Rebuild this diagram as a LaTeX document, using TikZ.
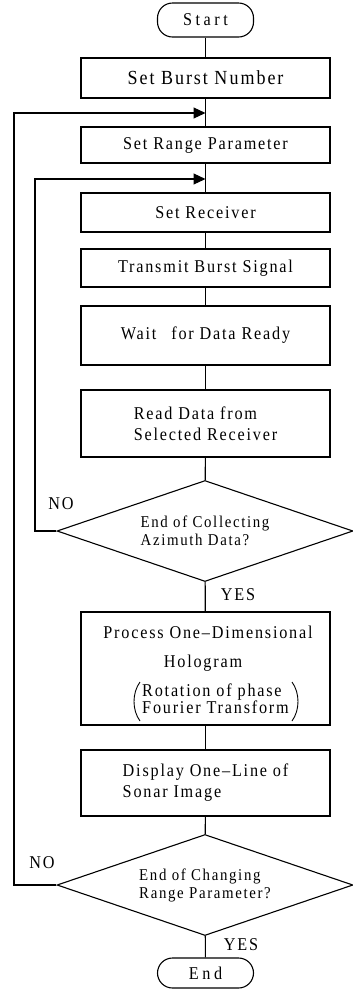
\documentclass[tikz,border=0pt]{standalone}
\usepackage{fontspec}
\setmainfont{Liberation Serif}[FakeStretch=0.9, LetterSpace=10]
\usetikzlibrary{arrows.meta,shapes.geometric}
\begin{document}
\begin{tikzpicture}[x=1pt,y=-1pt,
  every node/.style={font=\fontsize{18}{21}\selectfont},
  line/.style={line width=1.1pt},
  arr/.style={line, -{Triangle[length=12pt,width=11pt]}},
  stepbox/.style={draw, line width=1.1pt, minimum width=249pt, inner sep=0pt},
  term/.style={draw, line width=1.1pt, rounded corners=15pt, minimum width=96pt, inner sep=0pt,
               font=\fontsize{18}{21}\selectfont\addfontfeatures{LetterSpace=20}},
  decision/.style={draw, line width=1.1pt, diamond, shape aspect=2.9, inner sep=0pt,
                   minimum width=296pt, minimum height=101pt,
                   font=\fontsize{16.5}{18}\selectfont},
  tag/.style={inner sep=0pt},
  paren/.style={line width=0.9pt}]
\useasboundingbox (0,0) rectangle (353,989);

% main column
\node[term, minimum height=34pt] (start) at (205.5,20) {Start};
\node[stepbox, minimum height=40pt, font=\fontsize{20}{24}\selectfont] (burst) at (205.5,78) {Set Burst Number};
\node[stepbox, minimum height=36pt] (rng) at (205.5,145) {Set Range Parameter};
\node[stepbox, minimum height=39pt] (recv) at (205.5,212.5) {Set Receiver};
\node[stepbox, minimum height=38pt] (trans) at (205.5,268) {Transmit Burst Signal};
\node[stepbox, minimum height=59pt] (wait) at (205.5,335.5) {Wait\hspace{0.5em} for Data Ready};
\node[stepbox, minimum height=67pt, align=left] (read) at (205.5,423.5)
  {Read Data from\\Selected Receiver};
\node[decision, align=left] (d1) at (205,531) {End of Collecting\\Azimuth Data?};
\node[stepbox, minimum height=113pt] (proc) at (205.5,668.5) {};
\node[stepbox, minimum height=66pt, align=left] (disp) at (205.5,783)
  {Display One–Line of\\Sonar Image};
\node[decision, align=left] (d2) at (205,885) {End of Changing\\Range Parameter?};
\node[term, minimum height=30pt] (end) at (205.5,973) {End};

% text of the hologram step
\node[anchor=base, inner sep=0pt] (ptitle) at (208,638) {Process One–Dimensional};
\node[anchor=base, inner sep=0pt] (pholo) at (203,667) {Hologram};
\node[anchor=base west, inner sep=0pt, align=left] (pnote) at (142,713)
  {Rotation of phase\\[-4pt]Fourier Transform};
\draw[paren] (140,682) .. controls (132,693) and (132,710) .. (140,721);
\draw[paren] (292,682) .. controls (300,693) and (300,710) .. (292,721);

% junctions on the column where the loops return
\coordinate (j1) at (205.5,113);
\coordinate (j2) at (205.5,179);
\coordinate (o1) at (14,113);
\coordinate (o2) at (35,179);

% straight flow
\draw[line] (start) -- (burst);
\draw[line] (burst) -- (rng);
\draw[line] (rng) -- (recv);
\draw[line] (recv) -- (trans);
\draw[line] (trans) -- (wait);
\draw[line] (wait) -- (read);
\draw[line] (read) -- (d1);
\draw[line] (d1) -- (proc);
\draw[line] (proc) -- (disp);
\draw[line] (disp) -- (d2);
\draw[line] (d2) -- (end);

% loops back
\draw[arr] (d1.west) -| (o2) -- (j2);
\draw[arr] (d2.west) -| (o1) -- (j1);

% branch labels
\node[tag] (no1) at (61,504) {NO};
\node[tag] (yes1) at (238,595) {YES};
\node[tag] (no2) at (42,863) {NO};
\node[tag] (yes2) at (241,945) {YES};
\end{tikzpicture}
\end{document}
